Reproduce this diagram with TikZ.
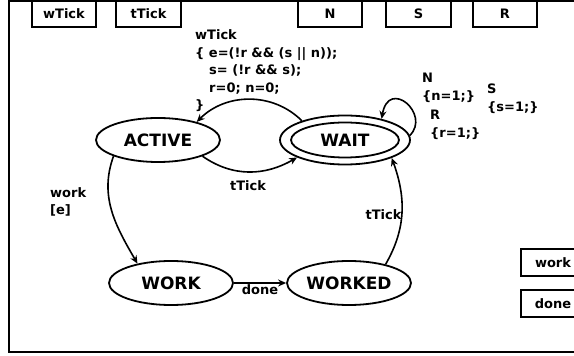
\documentclass[tikz,border=0pt]{standalone}
\usepackage{fontspec}
\setmainfont{DejaVu Sans}
\usetikzlibrary{arrows.meta}
\usetikzlibrary{shapes.geometric}

\tikzset{
  state/.style={draw,ellipse,line width=1.8pt,minimum width=124pt,minimum height=44pt,
    inner sep=0pt,font=\fontsize{17}{20}\selectfont\bfseries},
  port/.style={draw,rectangle,line width=2pt,minimum width=64pt,minimum height=26pt,
    inner sep=0pt,font=\fontsize{13}{15}\selectfont\bfseries},
  lbl/.style={inner sep=0pt,align=left,font=\fontsize{13}{17.5}\selectfont\bfseries},
  trans/.style={line width=1.6pt,-{Stealth[length=8pt,width=7pt]}}
}

\begin{document}
\begin{tikzpicture}[x=1pt,y=1pt]

\clip (0,0) rectangle (574,356);
\fill[white] (0,0) rectangle (574,356);

\draw[line width=2pt] (9,4) rectangle (620,355);

% event ports on the frame
\node (pwtick) at (64,342) [port] {wTick};
\node (pttick) at (148.5,342) [port,minimum width=65pt] {tTick};
\node (pn) at (330,342) [port] {N};
\node (ps) at (418.5,342) [port,minimum width=65pt] {S};
\node (pr) at (505,342) [port] {R};

\node (pwork) at (520,93.5) [port,anchor=west,minimum height=27pt] {work};
\node (pdone) at (520,52.5) [port,anchor=west,minimum height=27pt] {done};

% states
\node (active) at (158,216) [state] {ACTIVE};
\node (waitin) at (345,216) [state,minimum width=108pt,minimum height=35pt] {WAIT};
\node (wait) at (345,216) [state,minimum width=130pt,minimum height=49pt] {};
\node (work) at (171,73) [state] {WORK};
\node (worked) at (349,73) [state] {WORKED};

% transitions
\draw[trans] (wait.156) to[out=135,in=45] (active.25);
\draw[trans] (active.340) to[out=-35,in=210] (wait.200);
\draw[trans] (active.200) to[out=250,in=120] (work.150);
\draw[trans] (worked.27) to[out=60,in=290] (wait.339);
\draw[trans] (work) -- (worked);
\draw[trans] (wait.4) .. controls +(45:30) and +(80:42) .. (wait.30);

% labels
\node (lwtick) at (195,326.5) [lbl,anchor=north west]
{wTick \\ \{ e=(!r \&\& (s || n)); \\ \hspace*{14pt}s= (!r \&\& s); \\
 \hspace*{14pt}r=0; n=0; \\ \}};
\node (ln) at (422,283) [lbl,anchor=north west] {N \\ \{n=1;\}};
\node (ls) at (487,272) [lbl,anchor=north west] {S \\ \{s=1;\}};
\node (lr) at (430,246) [lbl,anchor=north west] {R \\ \{r=1;\}};
\node (lwork) at (50,169) [lbl,anchor=north west] {work \\ {[e]}};
\node (lttick) at (248,170) [lbl] {tTick};
\node (lttick2) at (383.5,141) [lbl] {tTick};
\node (ldone) at (260,66) [lbl] {done};

\end{tikzpicture}
\end{document}
